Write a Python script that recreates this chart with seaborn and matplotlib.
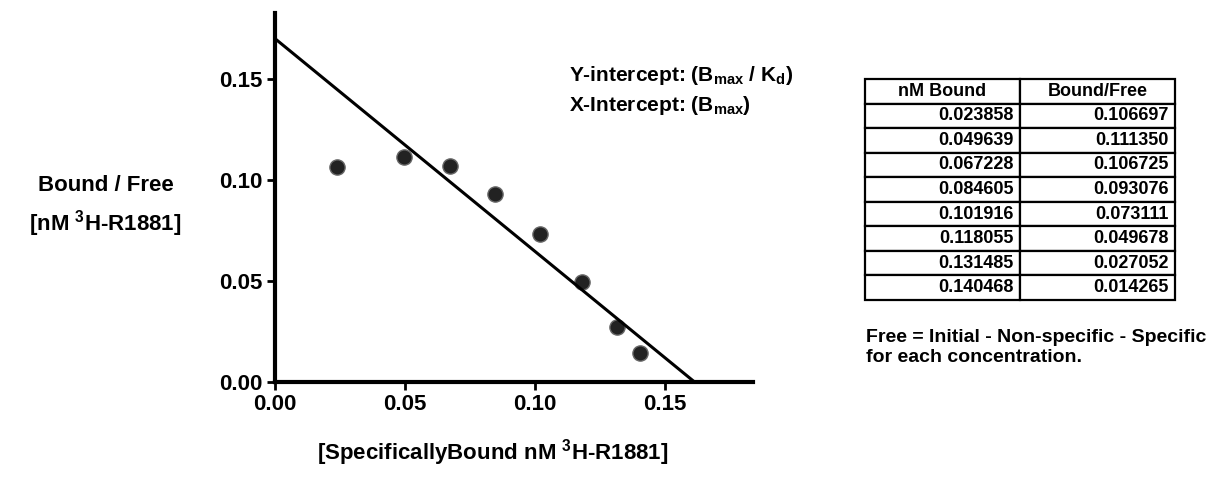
import numpy as np
import pandas as pd
import seaborn as sns
import matplotlib.pyplot as plt

# datos de la tabla (Scatchard)
nm_bound = [0.023858, 0.049639, 0.067228, 0.084605, 0.101916, 0.118055, 0.131485, 0.140468]
bound_free = [0.106697, 0.111350, 0.106725, 0.093076, 0.073111, 0.049678, 0.027052, 0.014265]
bmax_kd = 0.170   # y-intercept leido
bmax = 0.1615     # x-intercept leido
ticks = [0.00, 0.05, 0.10, 0.15]
col_labels = ['nM Bound', 'Bound/Free']

sns.set_style('ticks')
plt.rcParams['font.family'] = ['Liberation Sans', 'DejaVu Sans']
plt.rcParams['font.weight'] = 'bold'
plt.rcParams['text.color'] = 'black'
plt.rcParams['xtick.color'] = 'black'
plt.rcParams['ytick.color'] = 'black'
plt.rcParams['axes.labelcolor'] = 'black'
plt.rcParams['axes.edgecolor'] = 'black'
plt.rcParams['mathtext.fontset'] = 'custom'
plt.rcParams['mathtext.rm'] = 'Liberation Sans:bold'
plt.rcParams['mathtext.bf'] = 'Liberation Sans:bold'

df = pd.DataFrame({'x': nm_bound, 'y': bound_free})
linea = pd.DataFrame({'x': [0, bmax], 'y': [bmax_kd, 0]})

fig = plt.figure(figsize=(12.23, 4.82), dpi=100)
ax = fig.add_axes([0.2249, 0.2075, 0.3908, 0.7655])

sns.lineplot(data=linea, x='x', y='y', color='black', linewidth=2.2, ax=ax)
sns.scatterplot(data=df, x='x', y='y', color='#222222', s=120, edgecolor='#666666', linewidth=1, ax=ax)

ax.set_xlim(0, 0.184)
ax.set_ylim(0, 0.1827)
ax.set_xticks(ticks)
ax.set_yticks(ticks)
ax.set_xticklabels(['{:.2f}'.format(t) for t in ticks], fontsize=16, fontweight='bold')
ax.set_yticklabels(['{:.2f}'.format(t) for t in ticks], fontsize=16, fontweight='bold')
ax.tick_params(width=2, length=6, pad=3, color='black')

ax.set_xlabel('[SpecificallyBound nM $^{3}$H-R1881]', fontsize=16, fontweight='bold')
ax.xaxis.set_label_coords(0.455, -0.15)
ax.set_ylabel('Bound / Free\n[nM $^{3}$H-R1881]', fontsize=16, fontweight='bold',
              rotation=0, ha='center', va='center', linespacing=1.55)
ax.yaxis.set_label_coords(-0.355, 0.475)

sns.despine(ax=ax)
ax.spines['left'].set_linewidth(3)
ax.spines['bottom'].set_linewidth(3)

ax.text(0.615, 0.83, r'Y-intercept: (B$_{\mathbf{max}}$ / K$_{\mathbf{d}}$)', transform=ax.transAxes,
        fontsize=15, fontweight='bold', va='center')
ax.text(0.615, 0.75, r'X-Intercept: (B$_{\mathbf{max}}$)', transform=ax.transAxes,
        fontsize=15, fontweight='bold', va='center')

# tabla
ax_t = fig.add_axes([865 / 1223, 1 - 300 / 482, 310 / 1223, 221 / 482])
ax_t.axis('off')
filas = [['{:.6f}'.format(a), '{:.6f}'.format(b)] for a, b in zip(nm_bound, bound_free)]
tabla = ax_t.table(cellText=filas, colLabels=col_labels, cellLoc='right', colLoc='center',
                   bbox=[0, 0, 1, 1])
tabla.auto_set_font_size(False)
for (r, c), celda in tabla.get_celld().items():
    celda.set_linewidth(1.6)
    celda.get_text().set_fontsize(13)
    celda.get_text().set_fontweight('bold')
    celda.PAD = 0.04

fig.text(866 / 1223, 1 - 338 / 482, 'Free = Initial - Non-specific - Specific', fontsize=14,
         fontweight='bold', va='center')
fig.text(866 / 1223, 1 - 357 / 482, 'for each concentration.', fontsize=14,
         fontweight='bold', va='center')

fig.savefig('out.png', dpi=100)
